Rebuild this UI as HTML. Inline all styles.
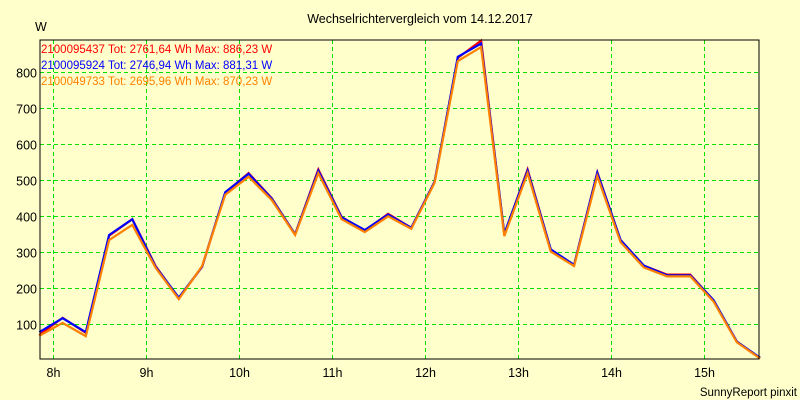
<!DOCTYPE html>
<html><head><meta charset="utf-8"><style>
html,body{margin:0;padding:0;background:#ffffcc;}
svg{display:block;font-family:"Liberation Sans",sans-serif;}
</style></head><body>
<svg id="chart" width="800" height="400">
<rect x="0" y="0" width="800" height="400" fill="#ffffcc"/>
<text x="420" y="23" font-size="12.5" text-anchor="middle" fill="#000">Wechselrichtervergleich vom 14.12.2017</text>
<text x="35" y="31" font-size="12.5" fill="#000">W</text>
<text x="797" y="396" font-size="11.5" text-anchor="end" fill="#000">SunnyReport pinxit</text>
<g id="grid"></g>
<g id="series"></g>
<rect x="40" y="40" width="719" height="319" fill="none" stroke="#000" stroke-width="1"/>
<g id="labels"></g>
<g id="legend"></g>
</svg>
<script>
const yTicks = [100,200,300,400,500,600,700,800];
const xTicks = [8,9,10,11,12,13,14,15];
const startHour = 7.85;
const stepHour = 0.25;
const seriesNames = ["2100095437 Tot: 2761,64 Wh Max: 886,23 W","2100095924 Tot: 2746,94 Wh Max: 881,31 W","2100049733 Tot: 2695,96 Wh Max: 870,23 W"];
const seriesColors = ["#ff0000","#0000ff","#ff8000"];
const redValues = [70,118,76,346,392,262,172,260,466,520,450,350,530,398,360,407,368,496,840,888,350,530,307,265,522,334,263,238,238,166,52,6];
const blueValues = [78,117,78,348,392,260,174,260,467,518,449,350,527,397,362,405,368,496,843,880,352,527,308,265,521,334,263,236,236,167,52,7];
const orangeValues = [68,104,67,334,376,257,170,262,460,510,445,348,520,392,356,400,365,493,831,870,345,520,302,262,512,328,258,233,233,163,50,5];
const allValues = [redValues, blueValues, orangeValues];

const NS = "http://www.w3.org/2000/svg";
const L=40,R=759,T=40,B=359;
function xs(h){ return 53.3 + (h-8)*93; }
function ys(v){ return 360.3 - v*0.36; }
function mk(tag, attrs){ const e=document.createElementNS(NS,tag); for(const k in attrs) e.setAttribute(k,attrs[k]); return e; }

const grid=document.getElementById('grid'), labels=document.getElementById('labels');
yTicks.forEach(v=>{
  const y=Math.round(ys(v))+0.5;
  const ln=mk('line',{x1:L,x2:R,y1:y,y2:y,stroke:'#00e000','stroke-dasharray':'4,3'});
  
  
  grid.appendChild(ln);
  const t=mk('text',{x:37,y:y+5,'font-size':'12.5','text-anchor':'end',fill:'#000'});
  t.textContent=v;
  
  
  labels.appendChild(t);
});
xTicks.forEach(h=>{
  const x=Math.round(xs(h))+0.5;
  const ln=mk('line',{x1:x,x2:x,y1:T,y2:B,stroke:'#00e000','stroke-dasharray':'4,3'});
  
  
  grid.appendChild(ln);
  const t=mk('text',{x:x,y:377,'font-size':'12.5','text-anchor':'middle',fill:'#000'});
  t.textContent=h+'h';
  
  
  labels.appendChild(t);
});
const sg=document.getElementById('series');
allValues.forEach((vals,i)=>{
  const pts=vals.map((v,k)=>xs(startHour+k*stepHour).toFixed(1)+','+ys(v).toFixed(1)).join(' ');
  const pl=mk('polyline',{points:pts,fill:'none',stroke:seriesColors[i],'stroke-width':'2.2','stroke-linejoin':'miter'});
  
  
  sg.appendChild(pl);
});
const lg=document.getElementById('legend');
seriesNames.forEach((n,i)=>{
  const t=mk('text',{x:41,y:53+i*16,'font-size':'11.5',fill:seriesColors[i]});
  t.textContent=n;
  
  
  lg.appendChild(t);
});
</script>
</body></html>
